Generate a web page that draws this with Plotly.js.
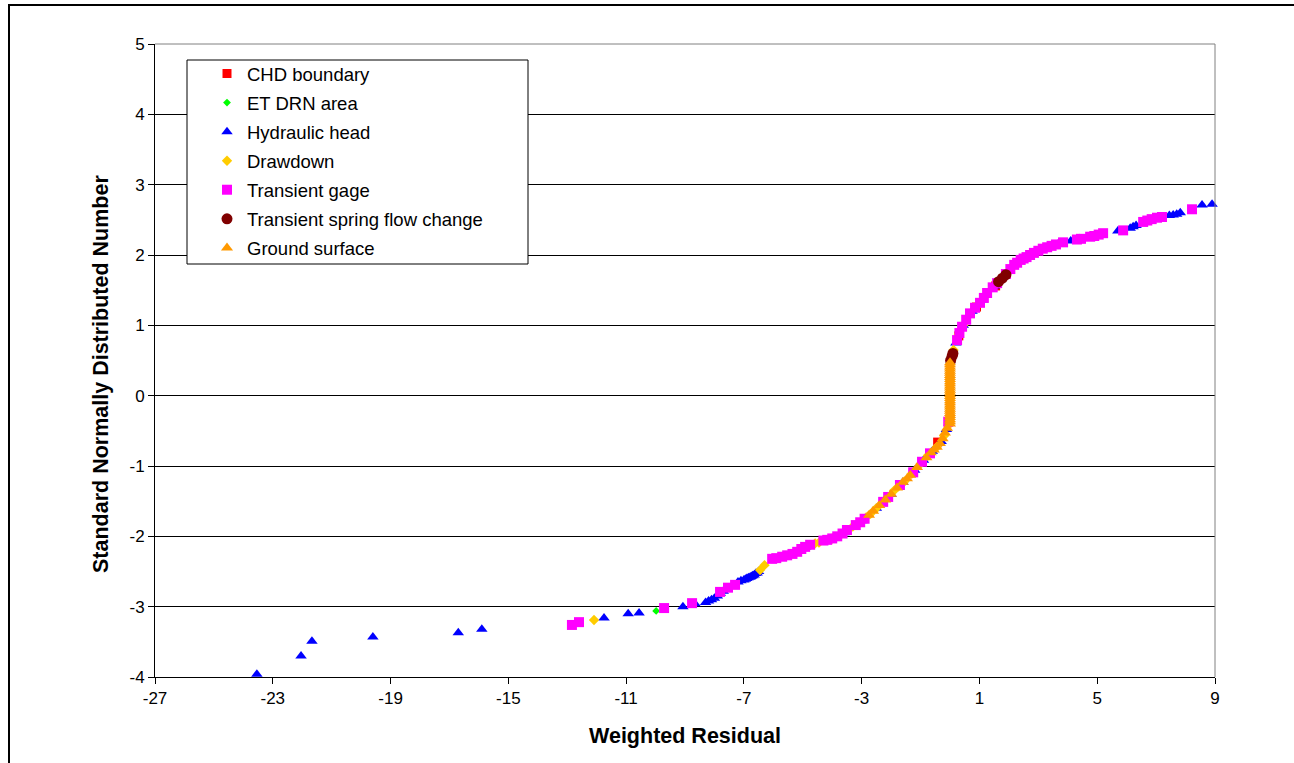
<!DOCTYPE html>
<html>
<head>
<meta charset="utf-8">
<script src="https://cdn.plot.ly/plotly-3.0.1.min.js"></script>
<style>
html,body{margin:0;padding:0;background:#fff;}
#chart{width:1294px;height:763px;}
#frame{position:absolute;left:8px;top:4px;width:1300px;height:780px;border-left:2px solid #000;border-top:2px solid #000;pointer-events:none;}
</style>
</head>
<body>
<div id="chart"></div>
<div id="frame"></div>
<script>
// ---- Data ----
const seriesNames = ["CHD boundary","ET DRN area","Hydraulic head","Drawdown","Transient gage","Transient spring flow change","Ground surface"];

const chdX = [-0.42, 0.30, 0.90, 1.55];
const chdY = [-0.66, 0.85, 1.26, 1.56];

const etdrnX = [-9.98];
const etdrnY = [-3.06];

const headX = [-23.54,-22.04,-21.67,-19.6,-16.7,-15.9,-11.75,-10.93,-10.56,-9.07,-8.66,-8.3,-8.2,-8.1,-8.0,-7.9,-7.8,-7.7,
  -7.2,-7.1,-7.0,-6.95,-6.9,-6.85,-6.79,-6.75,-6.7,-6.65,-6.6,-6.55,-6.5,-5.6,-4.9,-4.3,-3.6,-3.0,-2.5,-2.0,-1.6,-1.2,-0.9,-0.6,-0.3,-0.12,
  0.2,0.45,0.75,1.1,1.5,2.0,2.6,3.2,3.7,4.1,4.4,5.1,5.7,6.12,6.22,6.32,7.45,7.58,7.7,7.82,8.56,8.9];
const headY = [-3.96,-3.70,-3.49,-3.43,-3.37,-3.32,-3.16,-3.10,-3.09,-3.00,-2.96,-2.94,-2.92,-2.90,-2.88,-2.85,-2.81,-2.78,
  -2.65,-2.63,-2.62,-2.61,-2.60,-2.59,-2.58,-2.57,-2.56,-2.55,-2.53,-2.52,-2.50,-2.28,-2.15,-2.07,-1.95,-1.78,-1.60,-1.40,-1.23,-1.06,-0.92,-0.79,-0.65,-0.48,
  0.75,1.00,1.20,1.36,1.56,1.78,1.97,2.10,2.17,2.20,2.23,2.30,2.34,2.38,2.40,2.42,2.56,2.57,2.58,2.60,2.71,2.72];

const drawdownX = [-12.09,-6.45,-6.3,-5.0,-4.58,-4.45,-4.0,-3.7,-3.3,-2.85,-2.7,-2.5,-2.3,-2.15,-1.9,-1.75,-1.55,-1.3,-1.0,-0.75,-0.45,-0.2,-0.05,0.12,0.3,0.45,0.9];
const drawdownY = [-3.19,-2.48,-2.41,-2.17,-2.10,-2.09,-2.03,-1.97,-1.86,-1.73,-1.68,-1.60,-1.52,-1.46,-1.35,-1.29,-1.22,-1.11,-0.97,-0.85,-0.73,-0.57,-0.42,0.65,0.87,1.00,1.27];

const gageX = [-12.84,-12.6,-9.71,-8.76,-7.81,-7.54,-7.3,-6.04,-5.9,-5.7,-5.53,-5.35,-5.19,-5.05,-4.92,-4.75,-4.3,-4.17,-4.0,-3.83,-3.65,-3.5,-3.2,-3.05,-2.9,
  -2.27,-2.1,-1.7,-1.25,-0.95,-0.68,-0.06,0.24,0.32,0.41,0.55,0.68,0.85,1.02,1.15,1.26,1.45,1.6,1.9,2.05,2.18,2.28,2.4,2.5,2.6,
  2.72,2.85,3.0,3.15,3.3,3.45,3.6,3.84,4.31,4.45,4.76,4.9,5.05,5.2,5.88,6.56,6.7,6.85,7.03,7.2,8.22];
const gageY = [-3.26,-3.22,-3.02,-2.95,-2.79,-2.73,-2.69,-2.32,-2.31,-2.29,-2.27,-2.25,-2.22,-2.18,-2.15,-2.12,-2.06,-2.05,-2.03,-2.00,-1.96,-1.91,-1.84,-1.80,-1.75,
  -1.51,-1.44,-1.27,-1.09,-0.94,-0.82,-0.37,0.79,0.89,0.98,1.08,1.17,1.25,1.32,1.39,1.46,1.54,1.60,1.73,1.80,1.86,1.89,1.93,1.95,1.97,
  2.00,2.03,2.06,2.09,2.11,2.13,2.15,2.18,2.22,2.23,2.26,2.27,2.29,2.31,2.35,2.47,2.49,2.51,2.53,2.54,2.65];

const springX = [0.02, 0.07, 0.10, 1.65, 1.78, 1.90];
const springY = [0.50, 0.56, 0.60, 1.62, 1.67, 1.72];

const groundX = [-2.75,-2.61,-2.4,-2.2,-2.0,-1.8,-1.6,-1.46,-1.35,-1.12,-0.8,-0.65,-0.55,-0.45,-0.34,-0.25,-0.17,-0.1,
  0,0,0,0,0,0,0,0,0,0,0,0,0,0,0,0,0,0,0,0,0,0,0,0,0,0,0,0,0,0];
const groundY = [-1.70,-1.64,-1.56,-1.48,-1.40,-1.31,-1.23,-1.18,-1.13,-1.02,-0.88,-0.81,-0.77,-0.73,-0.68,-0.61,-0.53,-0.46,
  -0.40,-0.37,-0.34,-0.31,-0.28,-0.25,-0.22,-0.19,-0.16,-0.13,-0.10,-0.07,-0.04,-0.01,0.02,0.05,0.08,0.11,0.14,0.17,
  0.20,0.23,0.26,0.29,0.32,0.35,0.38,0.41,0.44,0.47];

const xTicks = [-27,-23,-19,-15,-11,-7,-3,1,5,9];
const yTicks = [-4,-3,-2,-1,0,1,2,3,4,5];

// ---- Chart ----
const FONT = "Arial, 'Liberation Sans', sans-serif";
function tr(i, x, y, symbol, color, size){
  return {x:x, y:y, name:seriesNames[i], type:'scatter', mode:'markers', legendgroup:'g'+i,
    marker:{symbol:symbol, color:color, size:size, line:{width:0}}, cliponaxis:false};
}
const data = [
  tr(0, chdX, chdY, 'square', '#FF0000', 9),
  tr(1, etdrnX, etdrnY, 'diamond', '#00FF00', 6),
  tr(2, headX, headY, 'triangle-up', '#0000FF', 10),
  tr(3, drawdownX, drawdownY, 'diamond', '#FFCC00', 8),
  tr(4, gageX, gageY, 'square', '#FF00FF', 10),
  tr(5, springX, springY, 'circle', '#800000', 11),
  tr(6, groundX, groundY, 'triangle-up', '#FF9900', 10.5)
];

const L=155, R=1215, T=44, B=677, W=1294, H=763;
const px = v => (v-L)/(R-L);
const py = v => 1-(v-T)/(B-T);

const layout = {
  width:W, height:H,
  margin:{l:L, r:W-R, t:T, b:H-B, pad:0},
  paper_bgcolor:'#fff', plot_bgcolor:'#fff',
  font:{family:FONT, color:'#000', size:17},
  showlegend:true,
  legend:{x:px(207), y:py(55), xanchor:'left', yanchor:'top', bgcolor:'rgba(0,0,0,0)', borderwidth:0,
    font:{family:FONT, size:18.5, color:'#000'}, traceorder:'grouped', tracegroupgap:2},
  xaxis:{range:[-27,9], tickmode:'array', tickvals:xTicks, ticktext:xTicks.map(String),
    showgrid:false, zeroline:false, showline:true, linecolor:'#000', linewidth:1,
    ticks:'outside', ticklen:6, tickcolor:'#000', tickwidth:1, tickfont:{size:17},
    title:{text:'Weighted Residual', font:{family:FONT, size:21.5, weight:'bold'}, standoff:20}},
  yaxis:{range:[-4,5], tickmode:'array', tickvals:yTicks, ticktext:yTicks.map(String),
    showgrid:true, gridcolor:'#000', gridwidth:1, zeroline:false, showline:true, linecolor:'#000', linewidth:1,
    ticks:'outside', ticklen:6, tickcolor:'#000', tickwidth:1, tickfont:{size:17}},
  annotations:[
    {text:'<b>Standard Normally Distributed Number</b>', xref:'paper', yref:'paper', x:px(101), y:py(374),
      xanchor:'center', yanchor:'middle', textangle:-90, showarrow:false, font:{family:FONT, size:21.5, color:'#000'}}
  ],
  shapes:[
    {type:'line', xref:'paper', yref:'paper', x0:0, x1:1, y0:1, y1:1, line:{color:'#808080', width:1}},
    {type:'line', xref:'paper', yref:'paper', x0:1, x1:1, y0:0, y1:1, line:{color:'#808080', width:1}},
    {type:'rect', xref:'paper', yref:'paper', x0:px(187), x1:px(528), y0:py(264), y1:py(60),
      fillcolor:'#fff', line:{color:'#000', width:1}, layer:'above'}
  ]
};

Plotly.newPlot('chart', data, layout, {displayModeBar:false, staticPlot:true});
</script>
</body>
</html>
